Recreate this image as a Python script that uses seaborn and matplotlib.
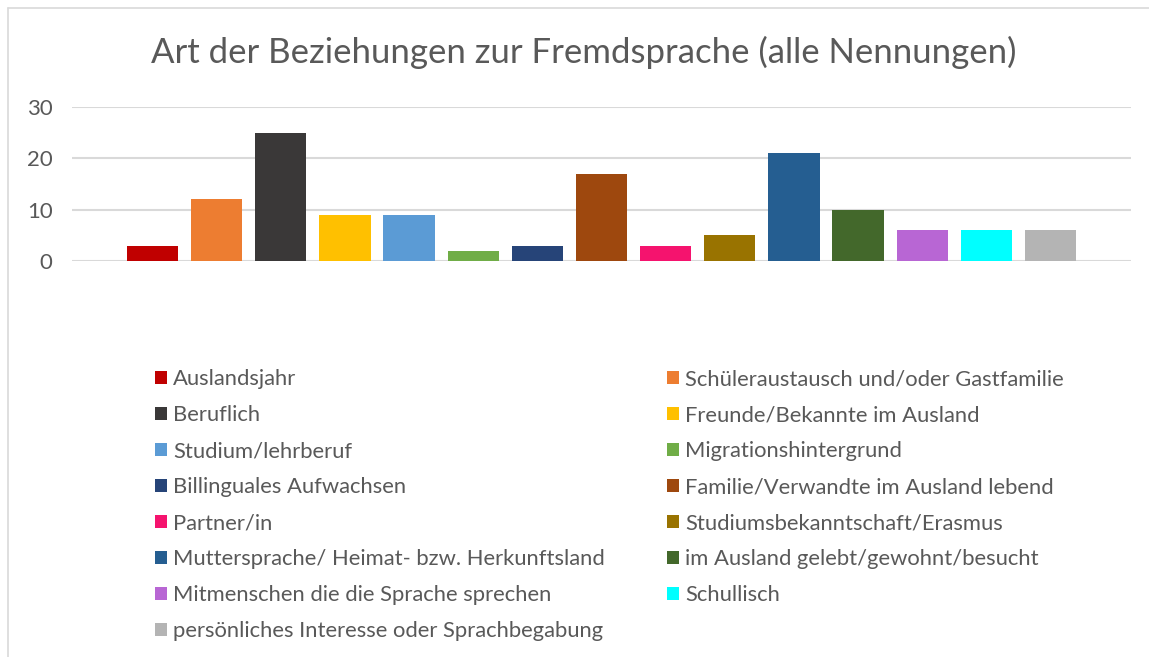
import matplotlib
matplotlib.use('Agg')
import matplotlib.pyplot as plt
import matplotlib.patches as mpatches
from matplotlib.lines import Line2D
import seaborn as sns
import pandas as pd

# Daten
kategorien = [
    'Auslandsjahr',
    'Schüleraustausch und/oder Gastfamilie',
    'Beruflich',
    'Freunde/Bekannte im Ausland',
    'Studium/lehrberuf',
    'Migrationshintergrund',
    'Billinguales Aufwachsen',
    'Familie/Verwandte im Ausland lebend',
    'Partner/in',
    'Studiumsbekanntschaft/Erasmus',
    'Muttersprache/ Heimat- bzw. Herkunftsland',
    'im Ausland gelebt/gewohnt/besucht',
    'Mitmenschen die die Sprache sprechen',
    'Schullisch',
    'persönliches Interesse oder Sprachbegabung',
]
nennungen = [3, 12, 25, 9, 9, 2, 3, 17, 3, 5, 21, 10, 6, 6, 6]
farben = [
    '#C00000', '#ED7D31', '#3A3838', '#FFC000', '#5B9BD5',
    '#70AD47', '#264478', '#9E480E', '#F5136E', '#997300',
    '#255E91', '#43682B', '#B866D4', '#00FFFF', '#B4B4B4',
]
titel = 'Art der Beziehungen zur Fremdsprache (alle Nennungen)'
y_ticks = [0, 10, 20, 30]

grau = '#595959'
W, H = 1149, 657

sns.set_style('white')
plt.rcParams['font.family'] = ['Lato', 'DejaVu Sans']

df = pd.DataFrame({'kategorie': kategorien, 'wert': nennungen})

fig = plt.figure(figsize=(W / 100, H / 100), dpi=100)
ax = fig.add_axes([72 / W, 1 - 261 / H, (1131 - 72) / W, (261 - 107) / H])

sns.barplot(data=df, x='kategorie', y='wert', hue='kategorie',
            palette=farben, width=0.8, dodge=False, legend=False,
            saturation=1, linewidth=0, ax=ax, zorder=3)

ax.set_ylim(0, 30)
ax.set_xlim(-1.256, 15.256)
ax.set_yticks(y_ticks)
ax.set_yticklabels([str(t) for t in y_ticks], fontsize=16, color=grau)
ax.tick_params(axis='y', length=0, pad=14)
ax.set_xticks([])
ax.set_xlabel('')
ax.set_ylabel('')
for s in ax.spines.values():
    s.set_visible(False)
ax.yaxis.grid(True, color='#D9D9D9', linewidth=1.5, zorder=0)

fig.text(584 / W, 1 - 52 / H, titel, ha='center', va='center',
         fontsize=25, color=grau)

# Rahmen (links und oben)
fig.add_artist(Line2D([8 / W, 8 / W], [0, 1 - 8 / H], transform=fig.transFigure,
                      color='#D9D9D9', linewidth=1.2))
fig.add_artist(Line2D([8 / W, 1], [1 - 8 / H, 1 - 8 / H], transform=fig.transFigure,
                      color='#D9D9D9', linewidth=1.2))

# Legende in zwei Spalten (zeilenweise gefüllt)
handles = [mpatches.Patch(facecolor=c, edgecolor='none', label=k)
           for k, c in zip(kategorien, farben)]
links = handles[0::2]
rechts = handles[1::2]
legend_kw = dict(frameon=False, fontsize=15.8, handlelength=0.55, handleheight=0.55,
                 handletextpad=0.28, labelspacing=0.73, borderpad=0, borderaxespad=0,
                 loc='upper left', labelcolor=grau)
leg1 = fig.legend(handles=links, bbox_to_anchor=(155 / W, 1 - 369 / H), **legend_kw)
leg2 = fig.legend(handles=rechts, bbox_to_anchor=(667 / W, 1 - 369 / H), **legend_kw)

fig.savefig('out.png', dpi=100)
